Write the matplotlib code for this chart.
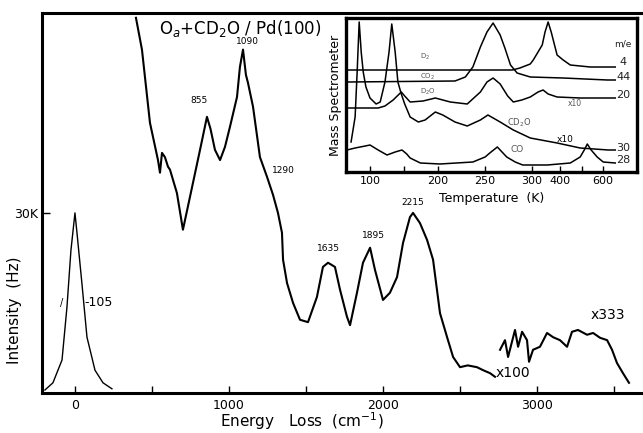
import numpy as np
import matplotlib
matplotlib.use("Agg")
import matplotlib.pyplot as plt
import matplotlib.ticker as mticker

# ── Main HREELS spectrum (energy loss in cm^-1, intensity in kHz) ─────────
ELASTIC_X = [-195, -143, -84, -52, -26, 0, 13, 45, 78, 130, 182, 240]
ELASTIC_Y = [0.5, 1.7, 5.5, 14.3, 23.8, 30.0, 26.7, 18.3, 9.3, 3.8, 1.7, 0.7]

X100_X = [396, 435, 487, 539, 552, 565, 584, 604, 617, 662, 701, 747, 812,
          857, 880, 909, 942, 974, 1006, 1052, 1071, 1091, 1110, 1123, 1156,
          1201, 1247, 1286, 1318, 1344, 1351, 1377, 1416, 1461, 1513, 1571,
          1610, 1643, 1688, 1721, 1766, 1786, 1831, 1870, 1916, 1948, 2000,
          2045, 2091, 2130, 2175, 2195, 2240, 2286, 2325, 2370, 2416, 2455,
          2500, 2550, 2610, 2650, 2695, 2727]
X100_Y = [62.5, 57.2, 45.0, 38.8, 36.7, 40.0, 39.3, 37.7, 37.2, 33.3, 27.2,
          32.7, 40.5, 46.0, 44.0, 40.5, 38.8, 41.0, 44.3, 49.3, 54.3, 57.2,
          53.0, 51.7, 47.7, 39.3, 36.0, 33.0, 30.0, 26.7, 22.2, 18.3, 15.0,
          12.2, 11.8, 16.0, 21.0, 21.7, 21.0, 17.2, 12.7, 11.3, 16.7, 21.7,
          24.2, 20.5, 15.5, 16.7, 19.3, 25.0, 29.3, 30.0, 28.3, 25.5, 22.2,
          13.3, 9.3, 6.0, 4.3, 4.6, 4.3, 3.8, 3.3, 2.7]

X333_X = [2760, 2792, 2812, 2857, 2877, 2903, 2935, 2948, 2974, 3019, 3065,
          3104, 3149, 3195, 3227, 3266, 3325, 3364, 3409, 3455, 3487, 3519,
          3558, 3597]
X333_Y = [7.2, 8.8, 6.0, 10.5, 7.7, 10.2, 8.8, 5.2, 7.2, 7.7, 10.0, 9.3,
          8.8, 7.7, 10.2, 10.5, 9.7, 10.0, 9.2, 8.8, 7.2, 5.0, 3.3, 1.7]

PEAK_LABELS = ["855", "1090", "1290", "1635", "1895", "2215"]
PEAK_LABEL_X = [805, 1117, 1351, 1643, 1935, 2195]
PEAK_LABEL_Y = [48.8, 58.5, 37.0, 24.0, 26.3, 31.7]

# ── Inset TPD traces (temperature K, signal arb. units) ───────────────────
T_KNOTS = [60, 100, 150, 200, 250, 300, 400, 600, 800]      # scale knots
T_POS = [343, 370, 404, 438, 485, 532, 560, 603, 646]

ME4_T = [66, 279, 287, 298, 304, 336, 346, 357, 368, 389, 414, 447, 540, 619, 656]
ME4_S = [102, 102, 104, 108, 112, 127, 140, 150, 140, 117, 112, 107, 105, 105, 105]

ME44_T = [68, 218, 229, 237, 245, 252, 258.5, 266, 271, 277, 284, 298, 414, 619, 656]
ME44_S = [90, 91, 95, 105, 125, 140, 149, 137, 124, 107, 99, 95, 94, 92, 92]

ME20_T = [68, 112, 122, 134, 146, 151, 159, 178, 196, 213, 231, 245, 252,
          258.5, 266, 274, 280, 289, 298, 321, 339, 357, 389, 493, 623, 656]
ME20_S = [64, 64, 66, 72, 80, 76, 70, 71, 74, 70, 68, 80, 90, 94, 88, 76,
          70, 72, 75, 80, 82, 78, 75, 74, 74, 74]

ME30_T = [72, 78, 81, 84, 87, 90, 94, 100, 109, 115, 122, 128, 132, 137, 141,
          146, 151, 159, 171, 181, 196, 205, 218, 231, 245, 253, 266, 280,
          298, 389, 493, 623, 656]
ME30_S = [30, 55, 100, 150, 120, 100, 85, 74, 68, 70, 90, 120, 148, 120, 90,
          78, 68, 55, 50, 52, 60, 57, 50, 46, 52, 57, 50, 42, 34, 29, 24, 22, 22]

ME28_T = [66, 78, 93, 100, 112, 125, 137, 147, 154, 159, 174, 202, 237, 250,
          255, 263, 268, 273, 282, 290, 354, 447, 493, 512, 526, 544, 572, 600, 656]
ME28_S = [22, 24, 26, 27, 22, 17, 20, 22, 18, 14, 9, 8, 10, 15, 19, 25, 20,
          15, 10, 7, 7, 9, 15, 22, 28, 22, 15, 10, 9]

ME_LABELS = ["m/e", "4", "44", "20", "30", "28"]
ME_LABEL_S = [128, 110, 95, 77, 24, 12]


W, H = 643, 433
fig = plt.figure(figsize=(W / 100, H / 100), dpi=100)
fig.patch.set_facecolor("white")

# ── Main axes ─────────────────────────────────────────────────────────────
ax = fig.add_axes([42 / W, 1 - 393 / H, 1 - 42 / W, 380 / H])
ax.plot(ELASTIC_X, ELASTIC_Y, color="black", lw=1.0)
ax.plot(X100_X, X100_Y, color="black", lw=1.5)
ax.plot(X333_X, X333_Y, color="black", lw=1.5)

ax.set_xlim(-214, 3688)
ax.set_ylim(0, 63.3)
for side in ["left", "top", "bottom"]:
    ax.spines[side].set_linewidth(2.2)
ax.spines["right"].set_visible(False)

ax.xaxis.set_major_locator(mticker.FixedLocator([0, 1000, 2000, 3000]))
ax.xaxis.set_minor_locator(mticker.FixedLocator([500, 1500, 2500, 3500]))
ax.yaxis.set_major_locator(mticker.FixedLocator([30]))
ax.yaxis.set_major_formatter(mticker.FixedFormatter(["30K"]))
ax.tick_params(which="both", direction="in", length=5, width=1.0,
               labelsize=9, pad=4)
ax.tick_params(axis="y", length=6, pad=3)

for lab, lx, ly in zip(PEAK_LABELS, PEAK_LABEL_X, PEAK_LABEL_Y):
    ax.text(lx, ly, lab, fontsize=6.5, ha="center", va="center")

ax.text(58, 15, "-105", fontsize=9, ha="left", va="center")
ax.text(-84, 15, "/", fontsize=7, ha="center", va="center")
ax.text(2844, 3.3, "x100", fontsize=10, ha="center", va="center")
ax.text(3461, 13, "x333", fontsize=10, ha="center", va="center")
ax.text(1071, 60.8, r"O$_a$+CD$_2$O / Pd(100)", fontsize=12,
        ha="center", va="center")

fig.text(302 / W, 1 - 421 / H, r"Energy   Loss  (cm$^{-1}$)", fontsize=11,
         ha="center", va="center")
fig.text(15 / W, 1 - 310 / H, "Intensity  (Hz)", fontsize=11, rotation=90,
         ha="center", va="center")

# ── Inset ────────────────────────────────────────────────────────────────
ax_in = fig.add_axes([346 / W, 1 - 172 / H, (637 - 346) / W, 154 / H])


def t_fwd(t):
    return np.interp(t, T_KNOTS, T_POS)


def t_inv(p):
    return np.interp(p, T_POS, T_KNOTS)


ax_in.set_xscale("function", functions=(t_fwd, t_inv))
for ts, ss in [(ME4_T, ME4_S), (ME44_T, ME44_S), (ME20_T, ME20_S),
               (ME30_T, ME30_S), (ME28_T, ME28_S)]:
    ax_in.plot(ts, ss, color="black", lw=1.1)

ax_in.set_xlim(64.5, 757)
ax_in.set_ylim(0, 154)
for side in ax_in.spines.values():
    side.set_linewidth(2.4)
ax_in.xaxis.set_major_locator(
    mticker.FixedLocator([100, 150, 200, 250, 300, 400, 500, 600]))
ax_in.xaxis.set_major_formatter(
    mticker.FixedFormatter(["100", "", "200", "250", "300", "400", "", "600"]))
ax_in.xaxis.set_minor_locator(mticker.NullLocator())
ax_in.set_yticks([])
ax_in.tick_params(axis="x", direction="in", length=4, width=1.0,
                  labelsize=8, pad=3)
ax_in.set_xlabel("Temperature  (K)", fontsize=9, labelpad=4)
ax_in.set_ylabel("Mass Spectrometer", fontsize=9, labelpad=3)

for lab, ly in zip(ME_LABELS, ME_LABEL_S):
    ax_in.text(693, ly, lab, fontsize=6.5 if lab == "m/e" else 8,
               ha="center", va="center", color="#222")

ax_in.text(286, 49, r"CD$_2$O", fontsize=6, color="#555", ha="center", va="center")
ax_in.text(284, 22, "CO", fontsize=6.5, color="#555", ha="center", va="center")
ax_in.text(423, 32, "x10", fontsize=6.5, ha="center", va="center")
ax_in.text(470, 69, "x10", fontsize=5.5, color="#555", ha="center", va="center")
ax_in.text(181, 115, r"D$_2$", fontsize=5, color="#555", ha="center", va="center")
ax_in.text(185, 95, r"CO$_2$", fontsize=5, color="#555", ha="center", va="center")
ax_in.text(185, 80, r"D$_2$O", fontsize=5, color="#555", ha="center", va="center")

fig.savefig("out.png", dpi=100, facecolor="white")
